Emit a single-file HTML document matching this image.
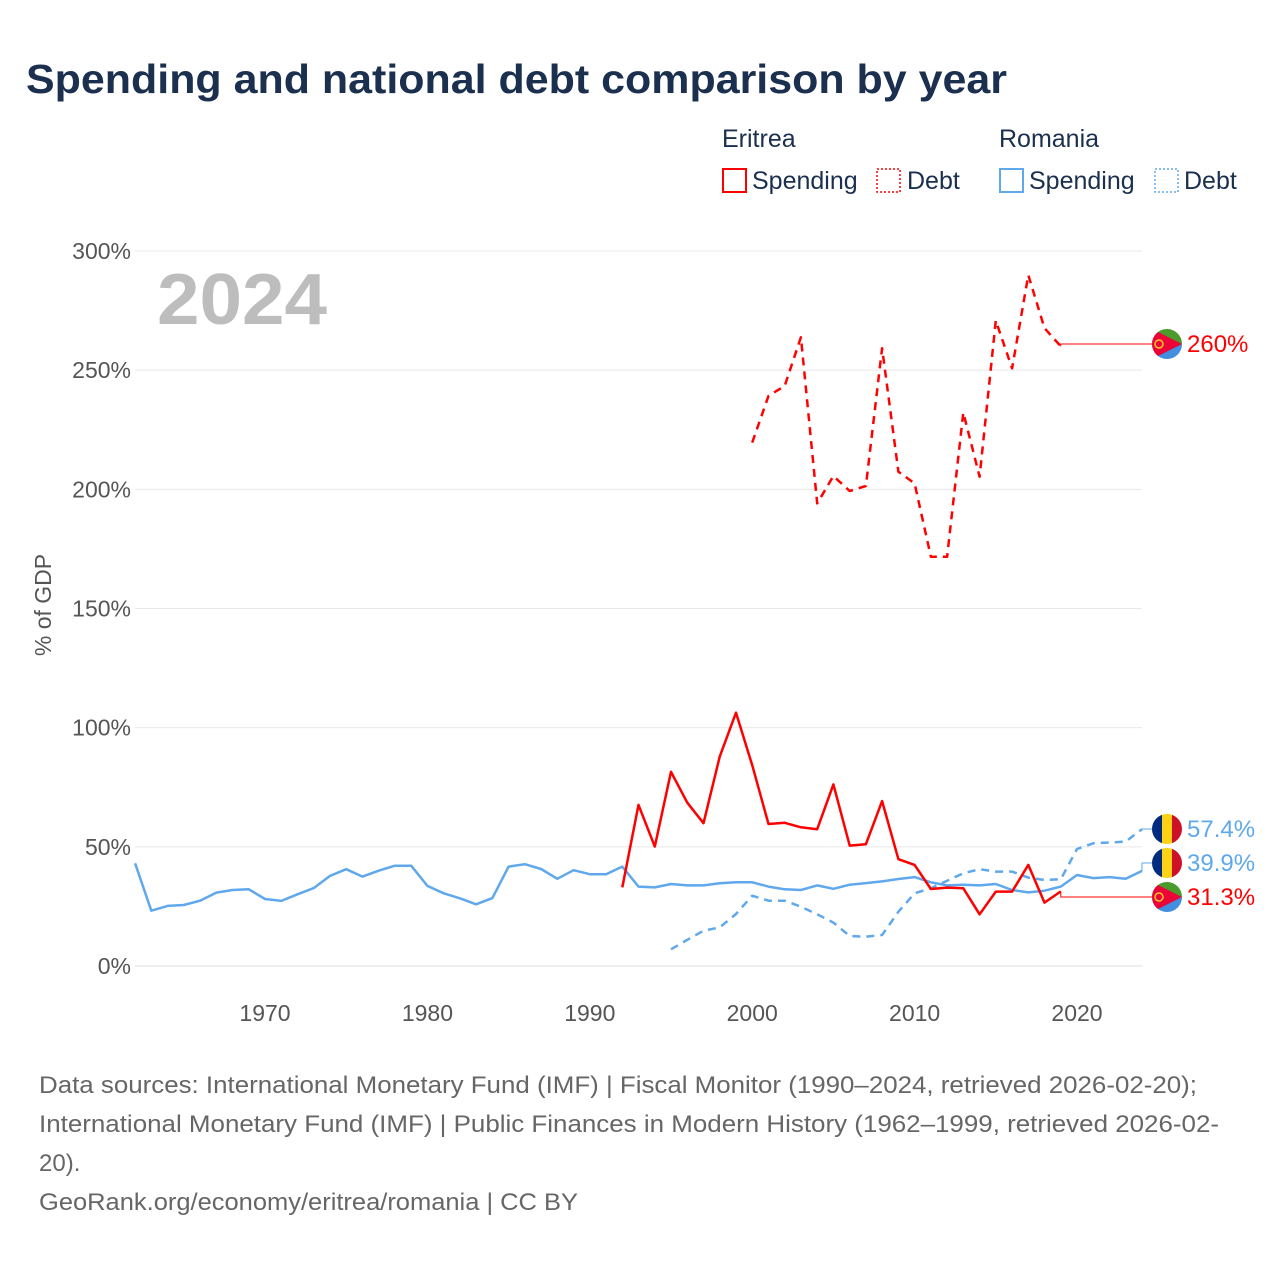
<!DOCTYPE html>
<html><head><meta charset="utf-8"><style>
body{margin:0;background:#fff;}
svg{display:block;font-family:"Liberation Sans",sans-serif;}
</style></head><body>
<svg id="chart" width="1280" height="1280" viewBox="0 0 1280 1280">
<text x="26" y="93" font-size="41" font-weight="bold" fill="#1b2f4e" textLength="981" lengthAdjust="spacingAndGlyphs">Spending and national debt comparison by year</text>
<g font-size="25" fill="#1b2f4e">
<text x="722" y="147">Eritrea</text>
<g><rect x="723" y="169" width="23" height="23" fill="none" stroke="#ff0000" stroke-width="2"/><text x="752" y="189">Spending</text></g>
<g><rect x="877" y="169" width="23" height="23" fill="none" stroke="#ff0000" stroke-width="1.5" stroke-dasharray="2,2"/><text x="907" y="189">Debt</text></g>
<text x="999" y="147">Romania</text>
<g><rect x="1000" y="169" width="23" height="23" fill="none" stroke="#5fa8ec" stroke-width="2"/><text x="1029" y="189">Spending</text></g>
<g><rect x="1155" y="169" width="23" height="23" fill="none" stroke="#5fa8ec" stroke-width="1.5" stroke-dasharray="2,2"/><text x="1184" y="189">Debt</text></g>
</g>
<g id="grid"></g>
<g id="yticks"></g>
<g id="xticks"></g>
<text x="157" y="324" font-size="72" font-weight="bold" fill="#bdbdbd" textLength="170" lengthAdjust="spacingAndGlyphs">2024</text>
<text transform="translate(51,605) rotate(-90)" text-anchor="middle" font-size="23" fill="#555">% of GDP</text>
<g id="series"></g>
<g id="labels"></g>
<g font-size="24" fill="#666">
<text x="39" y="1093" textLength="1158" lengthAdjust="spacingAndGlyphs">Data sources: International Monetary Fund (IMF) | Fiscal Monitor (1990–2024, retrieved 2026-02-20);</text>
<text x="39" y="1132" textLength="1180" lengthAdjust="spacingAndGlyphs">International Monetary Fund (IMF) | Public Finances in Modern History (1962–1999, retrieved 2026-02-</text>
<text x="39" y="1171">20).</text>
<text x="39" y="1210" textLength="539" lengthAdjust="spacingAndGlyphs">GeoRank.org/economy/eritrea/romania | CC BY</text>
</g>
</svg>
<script>
const yTicks=[0,50,100,150,200,250,300];
const xTicks=[1970,1980,1990,2000,2010,2020];
const roSpendStart=1962;
const roSpend=[43.1,23.2,25.2,25.6,27.4,30.8,31.9,32.2,28.1,27.3,30.1,32.7,37.8,40.6,37.5,40.0,42.1,42.1,33.6,30.5,28.4,25.9,28.5,41.7,42.7,40.7,36.6,40.2,38.5,38.5,41.7,33.3,33.0,34.4,33.8,33.8,34.7,35.1,35.1,33.3,32.2,31.9,33.8,32.4,34.1,34.8,35.5,36.5,37.3,35.1,33.8,34.1,33.8,34.4,31.9,30.9,31.6,33.3,38.2,36.9,37.3,36.6,39.9];
const roDebtStart=1995;
const roDebt=[7.0,11.0,14.8,16.2,21.8,29.5,27.4,27.4,24.9,21.7,18.2,12.6,12.3,13.0,22.8,30.5,32.6,35.8,38.9,40.6,39.6,39.6,37.1,36.1,36.4,49.1,51.5,51.8,52.2,57.4];
const erSpendStart=1992;
const erSpend=[33.0,67.6,50.1,81.5,68.5,59.9,87.8,106.3,84.3,59.6,60.1,58.2,57.4,76.2,50.5,51.1,69.2,44.8,42.4,32.3,32.9,32.6,21.7,31.2,31.2,42.4,26.6,31.3];
const erDebtStart=2000;
const erDebt=[219.6,239.2,243.4,263.8,194.1,205.6,199.3,201.4,259.2,207.4,202.5,171.7,171.7,232.2,205.3,270.8,250.8,289.9,267.6,260.0];
const NS='http://www.w3.org/2000/svg';
const X=y=>135.1+(y-1962)*16.24;
const Y=v=>966-v*2.3833;
function mk(t,a,p){const e=document.createElementNS(NS,t);for(const k in a)e.setAttribute(k,a[k]);p.appendChild(e);return e;}
const grid=document.getElementById('grid'),yt=document.getElementById('yticks'),xt=document.getElementById('xticks');
yTicks.forEach(v=>{
 const l=mk('line',{x1:135,x2:1142,y1:Y(v),y2:Y(v),stroke:v===0?'#ddd':'#e8e8e8','stroke-width':1},grid);
 
 
 const t=mk('text',{x:131,y:Y(v)+8,'text-anchor':'end','font-size':23,fill:'#555'},yt);
 t.textContent=v+'%';
 
 
});
xTicks.forEach(v=>{
 const t=mk('text',{x:X(v),y:1021,'text-anchor':'middle','font-size':23,fill:'#555'},xt);
 t.textContent=v;
 
 
});
const ser=document.getElementById('series');
function line(arr,start,color,dash,name){
 const pts=arr.map((v,i)=>X(start+i).toFixed(1)+','+Y(v).toFixed(1)).join(' ');
 const p=mk('polyline',{points:pts,fill:'none',stroke:color,'stroke-width':2.5,'stroke-linejoin':'round'},ser);
 if(dash)p.setAttribute('stroke-dasharray','8,6');
 
 
}
line(roSpend,roSpendStart,'#5fa8ec',null,'romania-spending-line');
line(roDebt,roDebtStart,'#5fa8ec',true,'romania-debt-line');
line(erSpend,erSpendStart,'#ff0000',null,'eritrea-spending-line');
line(erDebt,erDebtStart,'#ff0000',true,'eritrea-debt-line');
const lab=document.getElementById('labels');
function endLabel(name,yr,val,ly,color,text,flag){
 const x0=X(yr),y0=Y(val);
 const l=mk('polyline',{points:`${x0},${y0} ${x0},${ly} 1152,${ly}`,fill:'none',stroke:color,'stroke-width':1},lab);
 
 
 const g=mk('g',{},lab);
 
 
 const cx=1167;
 const cp=mk('clipPath',{id:'cp'+name},g);mk('circle',{cx:cx,cy:ly,r:15},cp);
 const gg=mk('g',{'clip-path':`url(#cp${name})`},g);
 if(flag==='ro'){
  mk('rect',{x:cx-15,y:ly-15,width:10,height:30,fill:'#002b7f'},gg);
  mk('rect',{x:cx-5,y:ly-15,width:10,height:30,fill:'#fcd116'},gg);
  mk('rect',{x:cx+5,y:ly-15,width:10,height:30,fill:'#ce1126'},gg);
 }else{
  mk('rect',{x:cx-15,y:ly-15,width:30,height:15,fill:'#4a9a2c'},gg);
  mk('rect',{x:cx-15,y:ly,width:30,height:15,fill:'#418fde'},gg);
  mk('polygon',{points:`${cx-15},${ly-15} ${cx+15},${ly} ${cx-15},${ly+15}`,fill:'#ea0437'},gg);
  mk('circle',{cx:cx-8,cy:ly,r:4,fill:'none',stroke:'#ffc726','stroke-width':1.5},gg);
 }
 const t=mk('text',{x:1187,y:ly+8,'font-size':24,fill:color},lab);
 t.textContent=text;
 
 
}
endLabel('eritrea-debt',2019,erDebt[erDebt.length-1],344,'#ff0000','260%','er');
endLabel('romania-debt',2024,roDebt[roDebt.length-1],829,'#5fa8ec','57.4%','ro');
endLabel('romania-spending',2024,roSpend[roSpend.length-1],863,'#5fa8ec','39.9%','ro');
endLabel('eritrea-spending',2019,erSpend[erSpend.length-1],897,'#ff0000','31.3%','er');
</script>
</body></html>
